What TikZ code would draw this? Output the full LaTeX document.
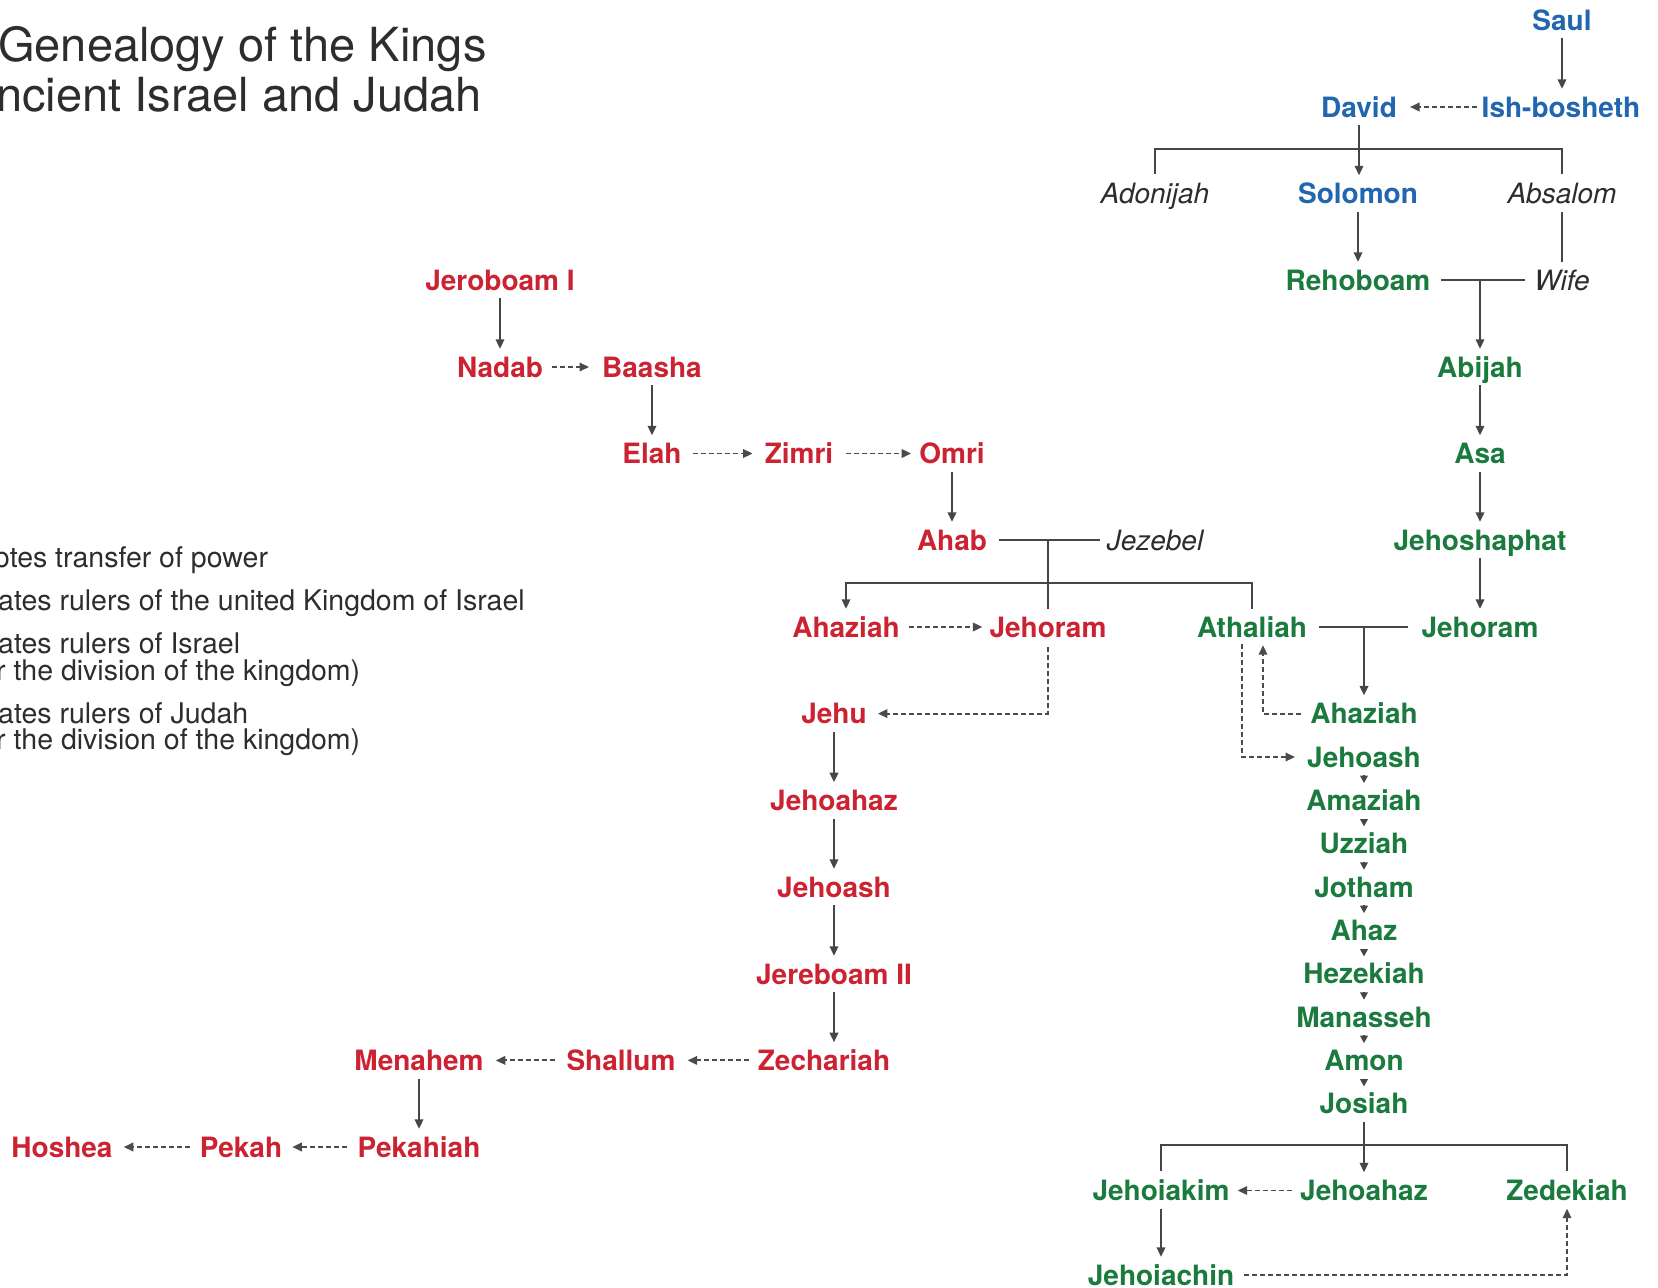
\documentclass[tikz,border=0pt]{standalone}
\usepackage{fontspec}
\setmainfont{TeX Gyre Heros}
\usetikzlibrary{arrows.meta,calc}
\definecolor{kblue}{RGB}{33,102,174}
\definecolor{kred}{RGB}{204,35,50}
\definecolor{kgreen}{RGB}{27,122,62}
\definecolor{kline}{RGB}{70,70,70}
\definecolor{kdash}{RGB}{75,75,75}
\definecolor{ktext}{RGB}{45,45,45}
\begin{document}
\begin{tikzpicture}[x=1pt,y=-1pt,
  nm/.style={font=\fontsize{28}{32}\selectfont\bfseries, inner sep=0pt, text height=20pt, text depth=0pt},
  blu/.style={nm,text=kblue},
  rd/.style={nm,text=kred},
  gr/.style={nm,text=kgreen},
  it/.style={font=\fontsize{28}{32}\selectfont\itshape, inner sep=0pt, text height=20pt, text depth=0pt, text=ktext},
  ttl/.style={font=\fontsize{47}{52}\selectfont, inner sep=0pt, anchor=base west, text=ktext},
  lgd/.style={font=\fontsize{28.5}{28}\selectfont, inner sep=0pt, anchor=base west, text=ktext},
  ln/.style={draw=kline, line width=2pt},
  ar/.style={ln, -{Triangle[width=8.5pt,length=9.5pt]}, shorten <=8pt, shorten >=8pt},
  sar/.style={ln, -{Triangle[width=7.5pt,length=7.5pt]}, shorten <=8pt, shorten >=7pt},
  dar/.style={draw=kdash, line width=1.9pt, dash pattern=on 5pt off 3pt, -{Triangle[width=8.5pt,length=9.5pt]}, shorten <=10pt, shorten >=11pt}
]
\useasboundingbox (0,0) rectangle (1658,1288);
\clip (0,0) rectangle (1658,1288);
\fill[white] (0,0) rectangle (1658,1288);

% title
\node[ttl] (t1) at (-2,61) {Genealogy of the Kings};
\node[ttl] (t2) at (-4,111) {ncient Israel and Judah};

% legend
\node[lgd] (l1) at (-6,567) {otes transfer of power};
\node[lgd] (l2) at (-2,610) {ates rulers of the united Kingdom of Israel};
\node[lgd] (l3) at (-2,653) {ates rulers of Israel};
\node[lgd] (l4) at (-4,680) {r the division of the kingdom)};
\node[lgd] (l5) at (-2,723) {ates rulers of Judah};
\node[lgd] (l6) at (-4,749) {r the division of the kingdom)};

% united kingdom
\node[blu] (saul) at (1562,20) {Saul};
\node[blu] (ish) at (1561,107) {Ish-bosheth};
\node[blu] (david) at (1359,107) {David};
\node[it] (adon) at (1155,193.5) {Adonijah};
\node[blu] (solomon) at (1358,193.5) {Solomon};
\node[it] (absalom) at (1562,193.5) {Absalom};

% Judah
\node[gr] (reh) at (1358,280) {Rehoboam};
\node[it] (wife) at (1562,280) {Wife};
\node[gr] (abijah) at (1480,367) {Abijah};
\node[gr] (asa) at (1480,453.5) {Asa};
\node[gr] (jehoshaphat) at (1480,540) {Jehoshaphat};
\node[gr] (jehoramG) at (1480,627) {Jehoram};
\node[gr] (atha) at (1252,627) {Athaliah};
\node[gr] (ahazG) at (1364,713.6) {Ahaziah};
\node[gr] (jehoashG) at (1364,757) {Jehoash};
\node[gr] (amaziah) at (1364,800.3) {Amaziah};
\node[gr] (uzziah) at (1364,843.7) {Uzziah};
\node[gr] (jotham) at (1364,887) {Jotham};
\node[gr] (ahaz) at (1364,930.4) {Ahaz};
\node[gr] (hezekiah) at (1364,973.7) {Hezekiah};
\node[gr] (manasseh) at (1364,1017) {Manasseh};
\node[gr] (amon) at (1364,1060.4) {Amon};
\node[gr] (josiah) at (1364,1103.75) {Josiah};
\node[gr] (jehoiakim) at (1161,1190.5) {Jehoiakim};
\node[gr] (jehoahazG) at (1364,1190.5) {Jehoahaz};
\node[gr] (zedekiah) at (1567,1190.5) {Zedekiah};
\node[gr] (jehoiachin) at (1161,1275) {Jehoiachin};

% Israel
\node[rd] (jeroboam) at (500,280) {Jeroboam I};
\node[rd] (nadab) at (500,367) {Nadab};
\node[rd] (baasha) at (652,367) {Baasha};
\node[rd] (elah) at (652,453.5) {Elah};
\node[rd] (zimri) at (799,453.5) {Zimri};
\node[rd] (omri) at (952,453.5) {Omri};
\node[rd] (ahab) at (952,540) {Ahab};
\node[it] (jezebel) at (1155,540) {Jezebel};
\node[rd] (ahazR) at (846,627) {Ahaziah};
\node[rd] (jehoramR) at (1048,627) {Jehoram};
\node[rd] (jehu) at (834,713.6) {Jehu};
\node[rd] (jehoahazR) at (834,800.3) {Jehoahaz};
\node[rd] (jehoashR) at (834,887) {Jehoash};
\node[rd] (jereboam2) at (834,974) {Jereboam II};
\node[rd] (zechariah) at (824,1060.4) {Zechariah};
\node[rd] (shallum) at (621,1060.4) {Shallum};
\node[rd] (menahem) at (419,1060.4) {Menahem};
\node[rd] (pekahiah) at (419,1147) {Pekahiah};
\node[rd] (pekah) at (241,1147) {Pekah};
\node[rd] (hoshea) at (62,1147) {Hoshea};

\coordinate (dbar) at (0,149);
\coordinate (abar) at (0,583);
\coordinate (jbar) at (0,1145);
\coordinate (athR) at (1263,0);
\coordinate (athL) at (1242,0);

% united kingdom connectors
\draw[ar] (saul.south) -- (saul.south |- ish.north);
\draw[dar, shorten <=5pt, shorten >=13pt] (ish.west) -- (david.east);
\draw[ar] (david.south) -- (david.south |- solomon.north);
\draw[ln] ([yshift=9pt]adon.north) -- (adon.north |- dbar) -- (absalom.north |- dbar) -- ([yshift=9pt]absalom.north);
\draw[ar] (solomon.south) -- (solomon.south |- reh.north);
\draw[ln, shorten <=8pt, shorten >=8pt] (absalom.south) -- (absalom.south |- wife.north);

% Judah connectors
\draw[ln] ([xshift=10pt]reh.east) -- ([xshift=-9pt]wife.west);
\draw[ar, shorten <=0pt] (abijah.north |- reh) -- (abijah.north);
\draw[ar] (abijah.south) -- (abijah.south |- asa.north);
\draw[ar] (asa.south) -- (asa.south |- jehoshaphat.north);
\draw[ar] (jehoshaphat.south) -- (jehoshaphat.south |- jehoramG.north);
\draw[ln] ([xshift=12pt]atha.east) -- ([xshift=-13pt]jehoramG.west);
\draw[ar, shorten <=0pt] (ahazG.north |- atha) -- (ahazG.north);
\draw[dar, shorten <=9pt, shorten >=8pt] (ahazG.west) -| (athR |- atha.south);
\draw[dar, shorten <=7pt, shorten >=12pt] (athL |- atha.south) |- (jehoashG.west);
\foreach \a/\b in {jehoashG/amaziah, amaziah/uzziah, uzziah/jotham, jotham/ahaz, ahaz/hezekiah, hezekiah/manasseh, manasseh/amon, amon/josiah}
  \draw[sar] (\a.south) -- (\a.south |- \b.north);
\draw[ar] (josiah.south) -- (josiah.south |- jehoahazG.north);
\draw[ln] ([yshift=9pt]jehoiakim.north) -- (jehoiakim.north |- jbar) -- (zedekiah.north |- jbar) -- ([yshift=9pt]zedekiah.north);
\draw[dar, shorten <=8pt, shorten >=8pt] (jehoahazG.west) -- (jehoiakim.east);
\draw[ar] (jehoiakim.south) -- (jehoiakim.south |- jehoiachin.north);
\draw[dar, shorten <=10pt, shorten >=8pt] (jehoiachin.east) -| (zedekiah.south);

% Israel connectors
\draw[ar] (jeroboam.south) -- (jeroboam.south |- nadab.north);
\draw[dar, shorten <=9pt, shorten >=13pt] (nadab.east) -- (baasha.west);
\draw[ar] (baasha.south) -- (baasha.south |- elah.north);
\draw[dar, shorten <=11pt, shorten >=12pt] (elah.east) -- (zimri.west);
\draw[dar, shorten <=13pt, shorten >=8pt] (zimri.east) -- (omri.west);
\draw[ar] (omri.south) -- (omri.south |- ahab.north);
\draw[ln] ([xshift=12pt]ahab.east) -- ([xshift=-7pt]jezebel.west);
\draw[ln, shorten >=8pt] (jehoramR.north |- ahab) -- (jehoramR.north);
\draw[ln, -{Triangle[width=8.5pt,length=9.5pt]}] ([yshift=8pt]atha.north) -- (atha.north |- abar) -- (ahazR.north |- abar) -- ([yshift=8pt]ahazR.north);
\draw[dar, shorten <=9pt, shorten >=7pt] (ahazR.east) -- (jehoramR.west);
\draw[dar, shorten <=10pt, shorten >=11pt] (jehoramR.south) |- (jehu.east);
\draw[ar] (jehu.south) -- (jehu.south |- jehoahazR.north);
\draw[ar] (jehoahazR.south) -- (jehoahazR.south |- jehoashR.north);
\draw[ar] (jehoashR.south) -- (jehoashR.south |- jereboam2.north);
\draw[ar] (jereboam2.south) -- (jereboam2.south |- zechariah.north);
\draw[dar, shorten <=9pt, shorten >=12pt] (zechariah.west) -- (shallum.east);
\draw[dar, shorten <=11pt, shorten >=12pt] (shallum.west) -- (menahem.east);
\draw[ar] (menahem.south) -- (menahem.south |- pekahiah.north);
\draw[dar, shorten <=10pt, shorten >=10pt] (pekahiah.west) -- (pekah.east);
\draw[dar, shorten <=10pt, shorten >=11pt] (pekah.west) -- (hoshea.east);
\end{tikzpicture}
\end{document}
